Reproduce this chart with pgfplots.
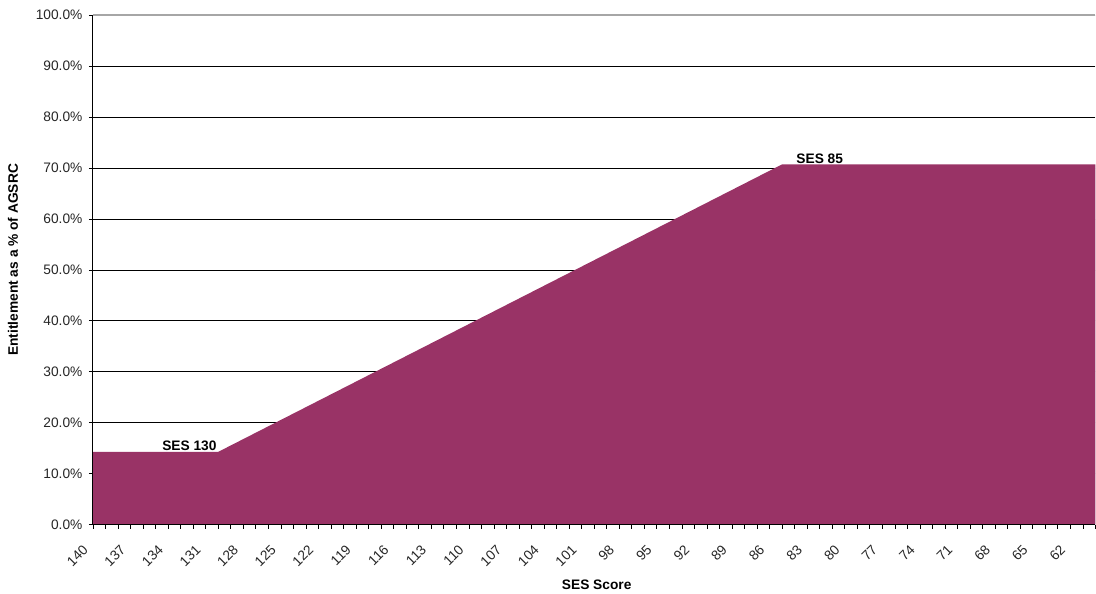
\documentclass[border=0pt]{standalone}
\usepackage{pgfplots}
\pgfplotsset{compat=1.18}
\usepackage{fontspec}
\setmainfont{Liberation Sans}
\definecolor{plum}{HTML}{993366}
\begin{document}
\begin{tikzpicture}
\begin{axis}[
  scale only axis,
  width=1003bp, height=510bp,
  xmin=60, xmax=140, x dir=reverse,
  ymin=0, ymax=100,
  axis x line*=bottom, axis y line*=left,
  axis line style={draw=none},
  xtick={62,65,...,140},
  minor xtick={60,...,140},
  ytick={0,10,...,100},
  ymajorgrids, grid style={black, line width=0.7bp},
  tick align=outside,
  major tick length=4bp, minor tick length=4bp,
  tick style={black, line width=0.7bp},
  /pgf/number format/assume math mode=true,
  ticklabel style={font=\fontsize{13.8}{16}\selectfont, text=black!85},
  yticklabel={\pgfmathprintnumber[fixed,fixed zerofill,precision=1]{\tick}\%},
  yticklabel style={xshift=-3bp},
  xticklabel style={xshift=-11bp, yshift=-15bp, rotate=45, anchor=north east, inner sep=0pt},
  xlabel={\textbf{SES Score}},
  ylabel={\textbf{Entitlement as a \% of AGSRC}},
  label style={font=\fontsize{13.8}{16}\selectfont},
  xlabel style={at={(axis description cs:0.5025,-0.1176)}, anchor=center},
  ylabel style={at={(axis description cs:-0.0798,0.5196)}, anchor=center},
  clip=false,
]
\addplot[fill=plum, draw=none] coordinates {
  (140,14.3) (130,14.3) (85,70.7) (60,70.7)
} \closedcycle;
\draw[gray!70, line width=1.2bp] (rel axis cs:0,1) -- (rel axis cs:1,1);
\draw[black, line width=1.1bp] (rel axis cs:0,0) -- (rel axis cs:0,1);
\draw[black, line width=1.1bp] (rel axis cs:0,0) -- (rel axis cs:1,0);
\node[anchor=south, font=\bfseries\fontsize{13.8}{16}\selectfont, inner sep=1bp] at (axis cs:132.3,14.3) {SES 130};
\node[anchor=south, font=\bfseries\fontsize{13.8}{16}\selectfont, inner sep=1bp] at (axis cs:82,70.7) {SES 85};
\end{axis}
\path (current axis.south west) ++(-93bp,-69bp) coordinate (bl);
\path (current axis.north east) ++(0bp,15bp) coordinate (tr);
\path (bl) rectangle (tr);
\end{tikzpicture}
\end{document}
